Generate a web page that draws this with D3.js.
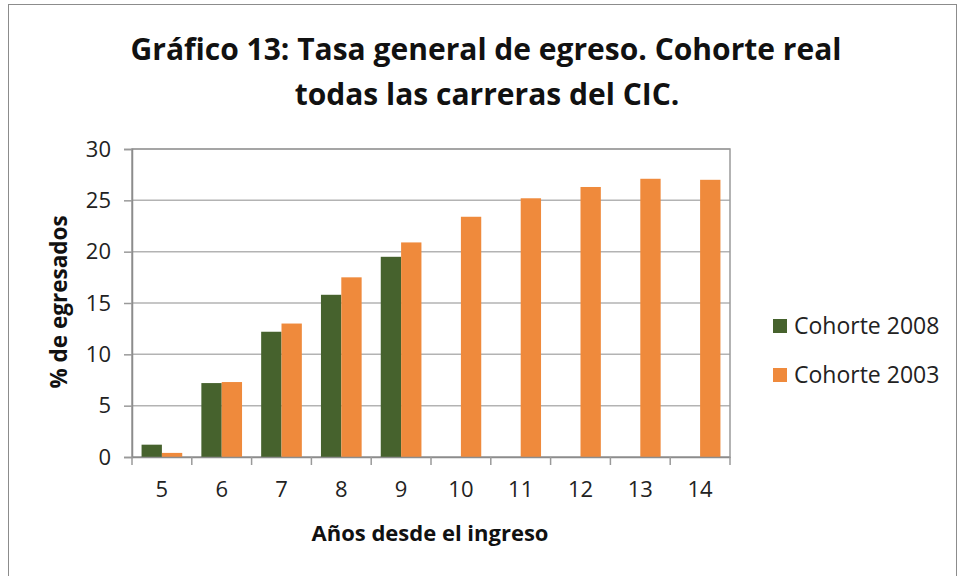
<!DOCTYPE html>
<html>
<head>
<meta charset="utf-8">
<script src="https://cdn.jsdelivr.net/npm/d3@7"></script>
<style>
  body { margin: 0; background: #fff; }
  svg { display: block; font-family: "Open Sans", Lato, sans-serif; }
</style>
</head>
<body>
<div id="chart"></div>
<script>
// data
var years = ["5", "6", "7", "8", "9", "10", "11", "12", "13", "14"];
var cohorte2008 = [1.2, 7.2, 12.2, 15.8, 19.5, null, null, null, null, null];
var cohorte2003 = [0.4, 7.3, 13.0, 17.5, 20.9, 23.4, 25.2, 26.3, 27.1, 27.0];
var seriesNames = ["Cohorte 2008", "Cohorte 2003"];
var seriesColors = ["#46622d", "#ef8a3c"];
var yTicks = [0, 5, 10, 15, 20, 25, 30];

var width = 961, height = 576;
var margin = { top: 149, right: 231, bottom: 119, left: 132 };

var svg = d3.select("#chart").append("svg")
  .attr("width", width)
  .attr("height", height);

// outer frame
svg.append("rect")
  .attr("x", 8.5).attr("y", 4.5)
  .attr("width", 948).attr("height", 600)
  .attr("fill", "none")
  .attr("stroke", "#8c8c8c")
  .attr("stroke-width", 1);

var x = d3.scaleBand()
  .domain(years)
  .range([margin.left, width - margin.right])
  .padding(0);

var xs = d3.scaleBand()
  .domain(seriesNames)
  .range([0, x.bandwidth()])
  .paddingInner(0)
  .paddingOuter(0.47);

var y = d3.scaleLinear()
  .domain([0, 30])
  .range([height - margin.bottom, margin.top]);

// gridlines
svg.append("g")
  .selectAll("line")
  .data(yTicks.slice(1))
  .enter().append("line")
  .attr("x1", margin.left)
  .attr("x2", width - margin.right)
  .attr("y1", function(d) { return y(d); })
  .attr("y2", function(d) { return y(d); })
  .attr("stroke", "#b3b3b3")
  .attr("stroke-width", 1.5);

// plot border (top/right)
svg.append("rect")
  .attr("x", margin.left)
  .attr("y", margin.top)
  .attr("width", width - margin.right - margin.left)
  .attr("height", height - margin.bottom - margin.top)
  .attr("fill", "none")
  .attr("stroke", "#9a9a9a")
  .attr("stroke-width", 1.5);

// bars
var rows = years.map(function(yr, i) {
  return { year: yr, values: [cohorte2008[i], cohorte2003[i]] };
});

var groups = svg.append("g")
  .selectAll("g")
  .data(rows)
  .enter().append("g")
  .attr("transform", function(d) { return "translate(" + x(d.year) + ",0)"; });

groups.selectAll("rect")
  .data(function(d) {
    return d.values.map(function(v, j) { return { name: seriesNames[j], value: v, color: seriesColors[j] }; })
      .filter(function(s) { return s.value != null; });
  })
  .enter().append("rect")
  .attr("x", function(d) { return xs(d.name); })
  .attr("width", xs.bandwidth())
  .attr("y", function(d) { return y(d.value); })
  .attr("height", function(d) { return y(0) - y(d.value); })
  .attr("fill", function(d) { return d.color; });

// y axis
var yAxis = svg.append("g")
  .attr("transform", "translate(" + margin.left + ",0)")
  .call(d3.axisLeft(y).tickValues(yTicks).tickSize(8).tickPadding(13));

// x axis: ticks at category boundaries
var xAxis = svg.append("g")
  .attr("transform", "translate(0," + y(0) + ")")
  .call(d3.axisBottom(x).tickSize(0).tickPadding(24));

xAxis.selectAll(".boundary")
  .data(years.concat(["end"]))
  .enter().append("line")
  .attr("class", "boundary")
  .attr("x1", function(d, i) { return i < years.length ? x(d) : x.range()[1]; })
  .attr("x2", function(d, i) { return i < years.length ? x(d) : x.range()[1]; })
  .attr("y1", 0)
  .attr("y2", 8)
  .attr("stroke", "#9a9a9a")
  .attr("stroke-width", 1.5);

[yAxis, xAxis].forEach(function(ax) {
  ax.select(".domain").attr("stroke", "#8c8c8c").attr("stroke-width", 1.5);
  ax.selectAll(".tick line").attr("stroke", "#9a9a9a").attr("stroke-width", 1.5);
  ax.selectAll("text")
    .attr("fill", "#222")
    .style("font-family", "'Open Sans', Lato, sans-serif")
    .style("font-size", "22px");
});

// title
var title = svg.append("text")
  .attr("text-anchor", "middle")
  .style("font-size", "30px")
  .style("font-weight", "bold")
  .attr("fill", "#111");
title.append("tspan").attr("x", 486).attr("y", 60).text("Gráfico 13: Tasa general de egreso. Cohorte real");
title.append("tspan").attr("x", 487).attr("y", 105).text("todas las carreras del CIC.");

// axis titles
svg.append("text")
  .attr("x", 430)
  .attr("y", 541)
  .attr("text-anchor", "middle")
  .style("font-size", "22px")
  .style("font-weight", "bold")
  .attr("fill", "#111")
  .text("Años desde el ingreso");

svg.append("text")
  .attr("transform", "translate(67,302) rotate(-90)")
  .attr("text-anchor", "middle")
  .style("font-size", "22.5px")
  .style("font-weight", "bold")
  .attr("fill", "#111")
  .text("% de egresados");

// legend
var legend = svg.append("g")
  .selectAll("g")
  .data(seriesNames)
  .enter().append("g")
  .attr("transform", function(d, i) { return "translate(773," + (319 + i * 49) + ")"; });

legend.append("rect")
  .attr("width", 14)
  .attr("height", 14)
  .attr("fill", function(d, i) { return seriesColors[i]; });

legend.append("text")
  .attr("x", 21)
  .attr("y", 15)
  .style("font-size", "23px")
  .attr("fill", "#222")
  .text(function(d) { return d; });
</script>
</body>
</html>
